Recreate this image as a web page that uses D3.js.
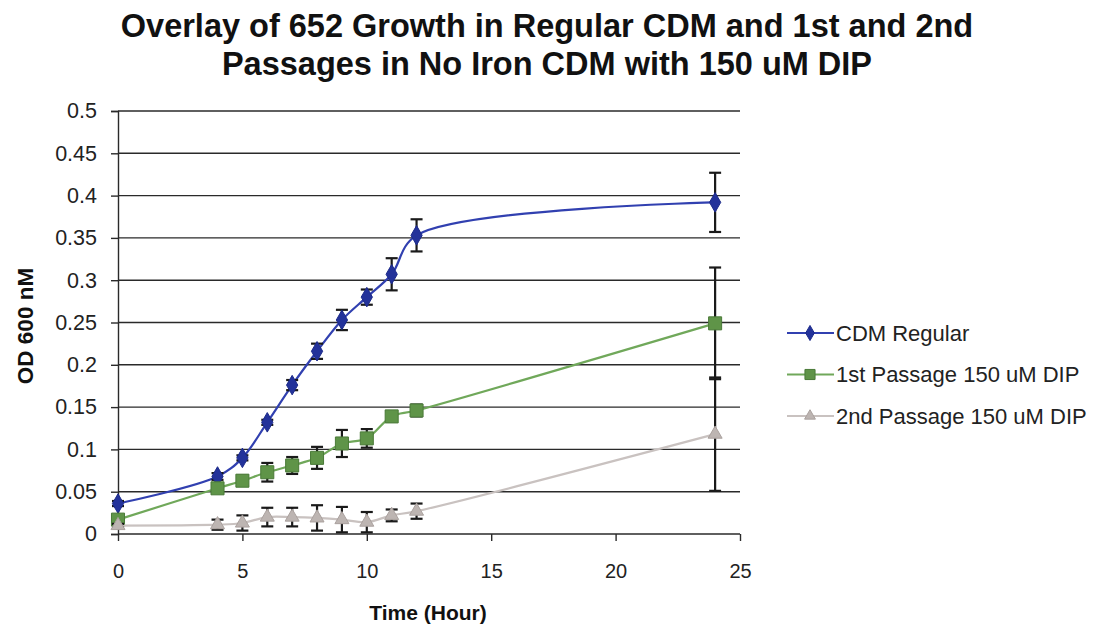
<!DOCTYPE html>
<html><head><meta charset="utf-8">
<script src="https://cdn.jsdelivr.net/npm/d3@7/dist/d3.min.js"></script>
<style>body{margin:0;background:#fff}svg{display:block}</style>
</head><body>
<svg id="chart" width="1099" height="628"></svg>
<script>
const hours = [0, 4, 5, 6, 7, 8, 9, 10, 11, 12, 24];
const cdmRegular = [0.036, 0.068, 0.090, 0.132, 0.176, 0.216, 0.253, 0.280, 0.307, 0.353, 0.392];
const cdmRegularErr = [0.003, 0.004, 0.003, 0.003, 0.006, 0.009, 0.012, 0.009, 0.019, 0.019, 0.035];
const pass1 = [0.017, 0.054, 0.063, 0.073, 0.081, 0.090, 0.107, 0.113, 0.139, 0.146, 0.249];
const pass1Err = [0.003, 0.004, 0.006, 0.011, 0.010, 0.013, 0.016, 0.011, 0.006, 0.007, 0.066];
const pass2 = [0.010, 0.011, 0.013, 0.020, 0.020, 0.019, 0.017, 0.014, 0.022, 0.027, 0.118];
const pass2Err = [0.002, 0.006, 0.009, 0.011, 0.011, 0.015, 0.015, 0.012, 0.007, 0.009, 0.067];
const seriesNames = ["CDM Regular", "1st Passage 150 uM DIP", "2nd Passage 150 uM DIP"];
const xTicks = [0, 5, 10, 15, 20, 25];
const yTicks = [0, 0.05, 0.1, 0.15, 0.2, 0.25, 0.3, 0.35, 0.4, 0.45, 0.5];
const titleLines = ["Overlay of 652 Growth in Regular CDM and 1st and 2nd", "Passages in No Iron CDM with 150 uM DIP"];
const xTitle = "Time (Hour)";
const yTitle = "OD 600 nM";

const svg = d3.select("#chart");
svg.append("rect").attr("width", 1099).attr("height", 628).attr("fill", "#fff");
const x = d3.scaleLinear().domain([0, 25]).range([118, 740]);
const y = d3.scaleLinear().domain([0, 0.5]).range([534, 111]);
const FONT = "'Liberation Sans', Arial, sans-serif";

// title
svg.append("g").selectAll("text").data(titleLines).join("text")
  .attr("x", 547).attr("y", (d, i) => 37 + i * 38)
  .attr("text-anchor", "middle").attr("font-family", FONT).attr("font-weight", "bold")
  .attr("font-size", 32.5).attr("fill", "#111").text(d => d);

// gridlines
svg.append("g").selectAll("line").data(yTicks.filter(t => t > 0)).join("line")
  .attr("x1", x(0)).attr("x2", x(25)).attr("y1", d => y(d)).attr("y2", d => y(d))
  .attr("stroke", "#2a2a2a").attr("stroke-width", 1.4);

// axes
const yAxis = d3.axisLeft(y).tickValues(yTicks).tickFormat(d3.format("~g")).tickSize(7).tickPadding(14);
const gy = svg.append("g").attr("transform", `translate(${x(0)},0)`).call(yAxis);
gy.select(".domain").attr("stroke", "#2a2a2a").attr("stroke-width", 1.4);
gy.selectAll(".tick line").attr("stroke", "#2a2a2a").attr("stroke-width", 1.4);
gy.selectAll("text").attr("font-family", FONT).attr("font-size", 21.5).attr("fill", "#222");

const xAxis = d3.axisBottom(x).tickValues(xTicks).tickSize(7).tickPadding(23);
const gx = svg.append("g").attr("transform", `translate(0,${y(0)})`).call(xAxis);
gx.select(".domain").attr("stroke", "#2a2a2a").attr("stroke-width", 1.4).attr("d", `M${x(0)},0H${x(25)}`);
gx.selectAll(".tick line").attr("stroke", "#2a2a2a").attr("stroke-width", 1.4);
gx.selectAll("text").attr("font-family", FONT).attr("font-size", 20).attr("fill", "#222");

svg.append("text").attr("x", 428).attr("y", 620).attr("text-anchor", "middle")
  .attr("font-family", FONT).attr("font-weight", "bold").attr("font-size", 21).attr("fill", "#111").text(xTitle);
svg.append("text").attr("transform", "translate(33,326) rotate(-90)").attr("text-anchor", "middle")
  .attr("font-family", FONT).attr("font-weight", "bold").attr("font-size", 22.5).attr("fill", "#111").text(yTitle);

const series = [
  {name: seriesNames[0], vals: cdmRegular, err: cdmRegularErr, line: "#3140b0", fill: "#23329a", stroke: "#1c2a8a", sym: d3.symbolDiamond, size: 110},
  {name: seriesNames[1], vals: pass1, err: pass1Err, line: "#70a85a", fill: "#5f9448", stroke: "#4a7a38", sym: d3.symbolSquare, size: 170},
  {name: seriesNames[2], vals: pass2, err: pass2Err, line: "#c9c2c0", fill: "#bdb5b2", stroke: "#aaa19e", sym: d3.symbolTriangle, size: 85}
];

const lineGen = d3.line().x(d => x(d[0])).y(d => y(d[1])).curve(d3.curveCatmullRom.alpha(0.5));

series.forEach(s => {
  const pts = hours.map((h, i) => [h, s.vals[i], s.err[i]]);
  const g = svg.append("g");
  g.append("path").attr("d", lineGen(pts)).attr("fill", "none").attr("stroke", s.line).attr("stroke-width", 2.2);
  const eb = g.append("g").attr("stroke", "#1a1a1a").attr("stroke-width", 2.2);
  pts.forEach(p => {
    const x0 = x(p[0]), yt = y(p[1] + p[2]), yb = y(p[1] - p[2]);
    eb.append("line").attr("x1", x0).attr("x2", x0).attr("y1", yt).attr("y2", yb);
    eb.append("line").attr("x1", x0 - 6).attr("x2", x0 + 6).attr("y1", yt).attr("y2", yt);
    eb.append("line").attr("x1", x0 - 6).attr("x2", x0 + 6).attr("y1", yb).attr("y2", yb);
  });
  g.append("g").selectAll("path").data(pts).join("path")
    .attr("transform", d => `translate(${x(d[0])},${y(d[1])})`)
    .attr("d", d3.symbol().type(s.sym).size(s.size))
    .attr("fill", s.fill).attr("stroke", s.stroke).attr("stroke-width", 1);
});

// legend
const leg = svg.append("g");
series.forEach((s, i) => {
  const ly = 333 + i * 41.5;
  leg.append("line").attr("x1", 787).attr("x2", 834).attr("y1", ly).attr("y2", ly).attr("stroke", s.line).attr("stroke-width", 2);
  leg.append("path").attr("transform", `translate(810,${ly})`).attr("d", d3.symbol().type(s.sym).size(s.size * 0.6))
    .attr("fill", s.fill).attr("stroke", s.stroke);
  leg.append("text").attr("x", 836).attr("y", ly).attr("dy", "0.35em").attr("font-family", FONT)
    .attr("font-size", 22).attr("fill", "#222").text(s.name);
});
</script>
</body></html>
